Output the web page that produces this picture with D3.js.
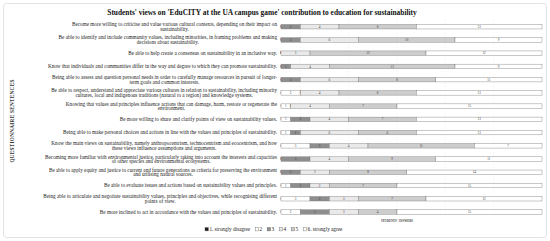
<!DOCTYPE html>
<html lang="en">
  <head>
    <meta charset="utf-8" />
    <script src="https://d3js.org/d3.v7.min.js" charset="utf-8"></script>
  </head>

  <style>
    body {
      margin: 0;
      background: #fff;
      font-family: 'Liberation Serif', 'DejaVu Serif', serif;
    }
    .seg-label {
      font-size: 3.2px;
      fill: #333;
    }
    .sentence {
      font-size: 5.2px;
      fill: #222;
    }
  </style>

  <body>
    <div id="plot-container"></div>

    <script type="text/javascript">
      // data //---------------------------------------------------------

      var sentences = [
        'Become more willing to criticise and value various cultural contexts, depending on their impact on\nsustainability.',
        'Be able to identify and include community values, including minorities, in framing problems and making\ndecisions about sustainability.',
        'Be able to help create a consensus on sustainability in an inclusive way.',
        'Know that individuals and communities differ in the way and degree to which they can promote sustainability.',
        'Being able to assess and question personal needs in order to carefully manage resources in pursuit of longer-\nterm goals and common interests.',
        'Be able to respect, understand and appreciate various cultures in relation to sustainability, including minority\ncultures, local and indigenous traditions (natural to a region) and knowledge systems.',
        'Knowing that values and principles influence actions that can damage, harm, restore or regenerate the\nenvironment.',
        'Be more willing to share and clarify points of view on sustainability values.',
        'Being able to make personal choices and actions in line with the values and principles of sustainability.',
        'Know the main views on sustainability, namely anthropocentrism, technocentrism and ecocentrism, and how\nthese views influence assumptions and arguments.',
        'Becoming more familiar with environmental justice, particularly taking into account the interests and capacities\nof other species and environmental ecosystems.',
        'Be able to apply equity and justice to current and future generations as criteria for preserving the environment\nand utilising natural sources.',
        'Be able to evaluate issues and actions based on sustainability values and principles.',
        'Being able to articulate and negotiate sustainability values, principles and objectives, while recognising different\npoints of view.',
        'Be more inclined to act in accordance with the values and principles of sustainability.',
      ];

      // number of students per answer level, one value per sentence
      var level1 = [0, 0, 0, 0, 0, 0, 0, 0, 0, 0, 0, 0, 0, 0, 0];
      var level2 = [0, 0, 0, 0, 0, 2, 1, 1, 1, 3, 0, 0, 1, 3, 2];
      var level3 = [2, 2, 0, 1, 2, 0, 0, 2, 1, 2, 3, 2, 2, 2, 3];
      var level4 = [4, 6, 3, 4, 6, 4, 4, 4, 6, 4, 4, 3, 2, 3, 3];
      var level5 = [8, 10, 12, 13, 8, 8, 7, 7, 6, 11, 9, 8, 7, 7, 4];
      var level6 = [13, 9, 12, 9, 11, 13, 15, 13, 13, 7, 11, 14, 15, 12, 15];

      var level_names = ['1. strongly disagree', '2', '3', '4', '5', '6. strongly agree'];
      var grid_ticks = [2, 7, 12, 17, 22];
      var max_answers = 27;

      var title_text =
        "Students' views on 'EduCITY at the UA campus game' contribution to education for sustainability";

      // constants //----------------------------------------------------

      var container_dimensions = { width: 550, height: 241 };
      var fills = ['#1e1e1e', '#ffffff', '#8e8e8e', '#e9e9e9', '#cdcdcd', '#ffffff'];
      var keys = ['l1', 'l2', 'l3', 'l4', 'l5', 'l6'];

      var table = sentences.map(function (s, i) {
        return {
          sentence: s,
          l1: level1[i],
          l2: level2[i],
          l3: level3[i],
          l4: level4[i],
          l5: level5[i],
          l6: level6[i],
        };
      });

      var svg = d3
        .select('#plot-container')
        .append('svg')
        .attr('width', container_dimensions.width)
        .attr('height', container_dimensions.height);

      svg
        .append('rect')
        .attr('x', 3.5)
        .attr('y', 3.5)
        .attr('width', 543)
        .attr('height', 234)
        .attr('rx', 3)
        .attr('fill', '#fff')
        .attr('stroke', '#dcdcdc')
        .attr('stroke-width', 0.8);

      // scales
      var scale_x = d3.scaleLinear().domain([0, max_answers]).range([281, 542]);
      var scale_y = d3
        .scaleBand()
        .domain(sentences)
        .range([20.1, 218.6])
        .paddingInner(0.66)
        .paddingOuter(0.33);

      // gridlines
      svg
        .append('g')
        .attr('class', 'grid')
        .selectAll('line')
        .data(grid_ticks)
        .join('line')
        .attr('x1', (d) => scale_x(d))
        .attr('x2', (d) => scale_x(d))
        .attr('y1', 20)
        .attr('y2', 218)
        .attr('stroke', '#d8d8d8')
        .attr('stroke-width', 0.4)
        .attr('stroke-dasharray', '1,2');

      // stacked bars
      var series = d3.stack().keys(keys)(table);

      var layers = svg
        .append('g')
        .selectAll('g')
        .data(series)
        .join('g')
        .attr('fill', (d, i) => fills[i]);

      layers
        .selectAll('rect')
        .data((d) => d)
        .join('rect')
        .attr('x', (d) => scale_x(d[0]))
        .attr('y', (d) => scale_y(d.data.sentence))
        .attr('width', (d) => scale_x(d[1]) - scale_x(d[0]))
        .attr('height', scale_y.bandwidth())
        .attr('stroke', '#777')
        .attr('stroke-width', 0.4);

      layers
        .selectAll('text')
        .data((d) => d)
        .join('text')
        .attr('class', 'seg-label')
        .attr('x', (d) => (scale_x(d[0]) + scale_x(d[1])) / 2)
        .attr('y', (d) => scale_y(d.data.sentence) + scale_y.bandwidth() / 2)
        .attr('dy', '0.35em')
        .attr('text-anchor', 'middle')
        .text((d) => d[1] - d[0]);

      // category labels, wrapped lines centred inside a right aligned block
      var label_right = 277;
      var line_height = 4.6;
      sentences.forEach(function (s) {
        var lines = s.split('\n');
        var cy = scale_y(s) + scale_y.bandwidth() / 2;
        var g = svg.append('g').attr('class', 'sentence');
        var texts = lines.map(function (l, j) {
          return g
            .append('text')
            .attr('y', cy + (j - (lines.length - 1) / 2) * line_height)
            .attr('dy', '0.35em')
            .attr('text-anchor', 'middle')
            .text(l);
        });
        var max_w = d3.max(texts, (t) => t.node().getComputedTextLength());
        texts.forEach((t) => t.attr('x', label_right - max_w / 2));
      });

      // titles
      svg
        .append('text')
        .attr('x', 262)
        .attr('y', 14.5)
        .attr('text-anchor', 'middle')
        .attr('font-weight', 'bold')
        .attr('font-size', '7.4px')
        .attr('fill', '#111')
        .text(title_text);

      svg
        .append('text')
        .attr('transform', 'translate(13.5,121) rotate(-90)')
        .attr('text-anchor', 'middle')
        .attr('font-weight', 'bold')
        .attr('font-size', '5.2px')
        .attr('letter-spacing', '0.3px')
        .attr('fill', '#333')
        .text('QUESTIONNAIRE SENTENCES');

      svg
        .append('text')
        .attr('x', 397)
        .attr('y', 222)
        .attr('text-anchor', 'middle')
        .attr('font-weight', 'bold')
        .attr('font-size', '3px')
        .attr('fill', '#444')
        .text("STUDENTS' ANSWERS");

      // legend
      var legend = svg.append('g').attr('transform', 'translate(205,229.5)');
      var lx = 0;
      level_names.forEach(function (name, i) {
        legend
          .append('rect')
          .attr('x', lx)
          .attr('y', -2)
          .attr('width', 3.4)
          .attr('height', 3.4)
          .attr('fill', fills[i])
          .attr('stroke', '#666')
          .attr('stroke-width', 0.4);
        var t = legend
          .append('text')
          .attr('x', lx + 4.4)
          .attr('y', 0)
          .attr('dy', '0.35em')
          .attr('font-size', '5.2px')
          .attr('fill', '#222')
          .text(name);
        lx += 4.4 + t.node().getComputedTextLength() + 5;
      });
    </script>
  </body>
</html>
